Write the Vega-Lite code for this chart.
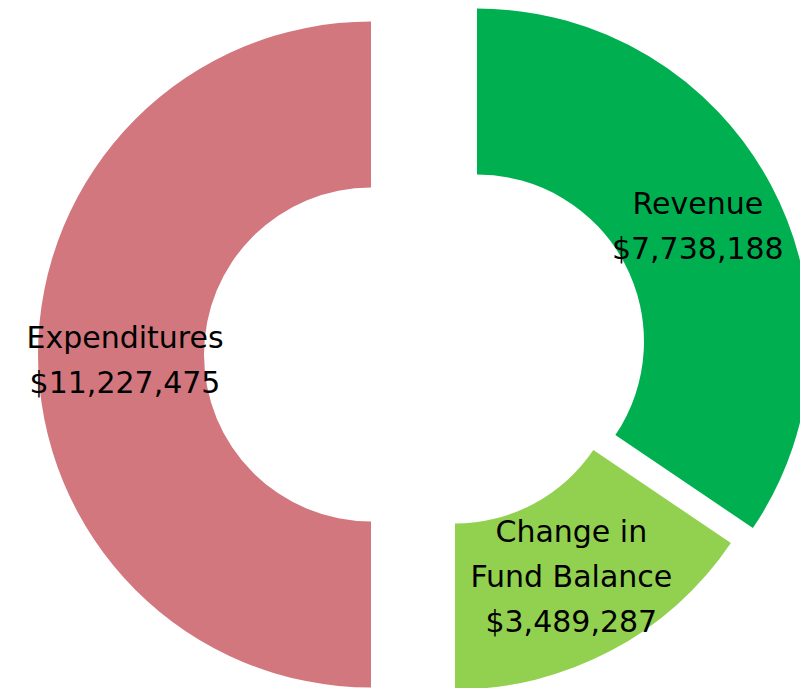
{
  "$schema": "https://vega.github.io/schema/vega-lite/v6.json",
  "width": 800,
  "height": 688,
  "autosize": {"type": "fit", "contains": "padding"},
  "padding": 0,
  "background": "white",
  "config": {"view": {"stroke": null}},
  "data": {
    "values": [
      {"category": "Revenue", "label": "Revenue", "amount": 7738188, "order": 1},
      {"category": "Change", "label": "Change in\nFund Balance", "amount": 3489287, "order": 2},
      {"category": "Expenditures", "label": "Expenditures", "amount": 11227475, "order": 3}
    ]
  },
  "transform": [
    {"stack": "amount", "groupby": [], "sort": [{"field": "order", "order": "ascending"}], "as": ["v0", "v1"]},
    {"calculate": "(datum.v0 + datum.v1) / 2", "as": "mid"},
    {"calculate": "datum.label + '\\n$' + format(datum.amount, ',')", "as": "txt"}
  ],
  "resolve": {"scale": {"theta": "shared"}},
  "layer": [
    {
      "transform": [{"filter": "datum.category == 'Expenditures'"}],
      "layer": [
        {
          "mark": {"type": "arc", "radius": 333, "radius2": 167, "xOffset": -19, "yOffset": 12, "color": "#D3777F"},
          "encoding": {
            "theta": {"field": "v1", "type": "quantitative", "stack": null, "scale": {"nice": false, "zero": true}},
            "theta2": {"field": "v0"}
          }
        },
        {
          "mark": {"type": "text", "radius": 246, "xOffset": -19, "yOffset": 12, "dy": -16, "font": "DejaVu Sans", "fontSize": 30, "lineHeight": 45, "lineBreak": "\n", "color": "black", "align": "center", "baseline": "middle"},
          "encoding": {
            "theta": {"field": "mid", "type": "quantitative", "stack": null},
            "text": {"field": "txt"}
          }
        }
      ]
    },
    {
      "transform": [{"filter": "datum.category == 'Revenue'"}],
      "layer": [
        {
          "mark": {"type": "arc", "radius": 333, "radius2": 167, "xOffset": 87, "yOffset": -1, "color": "#00B050"},
          "encoding": {
            "theta": {"field": "v1", "type": "quantitative", "stack": null},
            "theta2": {"field": "v0"}
          }
        },
        {
          "mark": {"type": "text", "radius": 250, "xOffset": 87, "yOffset": -1, "dy": -19, "font": "DejaVu Sans", "fontSize": 30, "lineHeight": 45, "lineBreak": "\n", "color": "black", "align": "center", "baseline": "middle"},
          "encoding": {
            "theta": {"field": "mid", "type": "quantitative", "stack": null},
            "text": {"field": "txt"}
          }
        }
      ]
    },
    {
      "transform": [{"filter": "datum.category == 'Change'"}],
      "layer": [
        {
          "mark": {"type": "arc", "radius": 333, "radius2": 167, "xOffset": 65, "yOffset": 14, "color": "#92D050"},
          "encoding": {
            "theta": {"field": "v1", "type": "quantitative", "stack": null},
            "theta2": {"field": "v0"}
          }
        },
        {
          "mark": {"type": "text", "radius": 248, "xOffset": 65, "yOffset": 14, "dy": -43, "font": "DejaVu Sans", "fontSize": 30, "lineHeight": 45, "lineBreak": "\n", "color": "black", "align": "center", "baseline": "middle"},
          "encoding": {
            "theta": {"field": "mid", "type": "quantitative", "stack": null},
            "text": {"field": "txt"}
          }
        }
      ]
    }
  ]
}
